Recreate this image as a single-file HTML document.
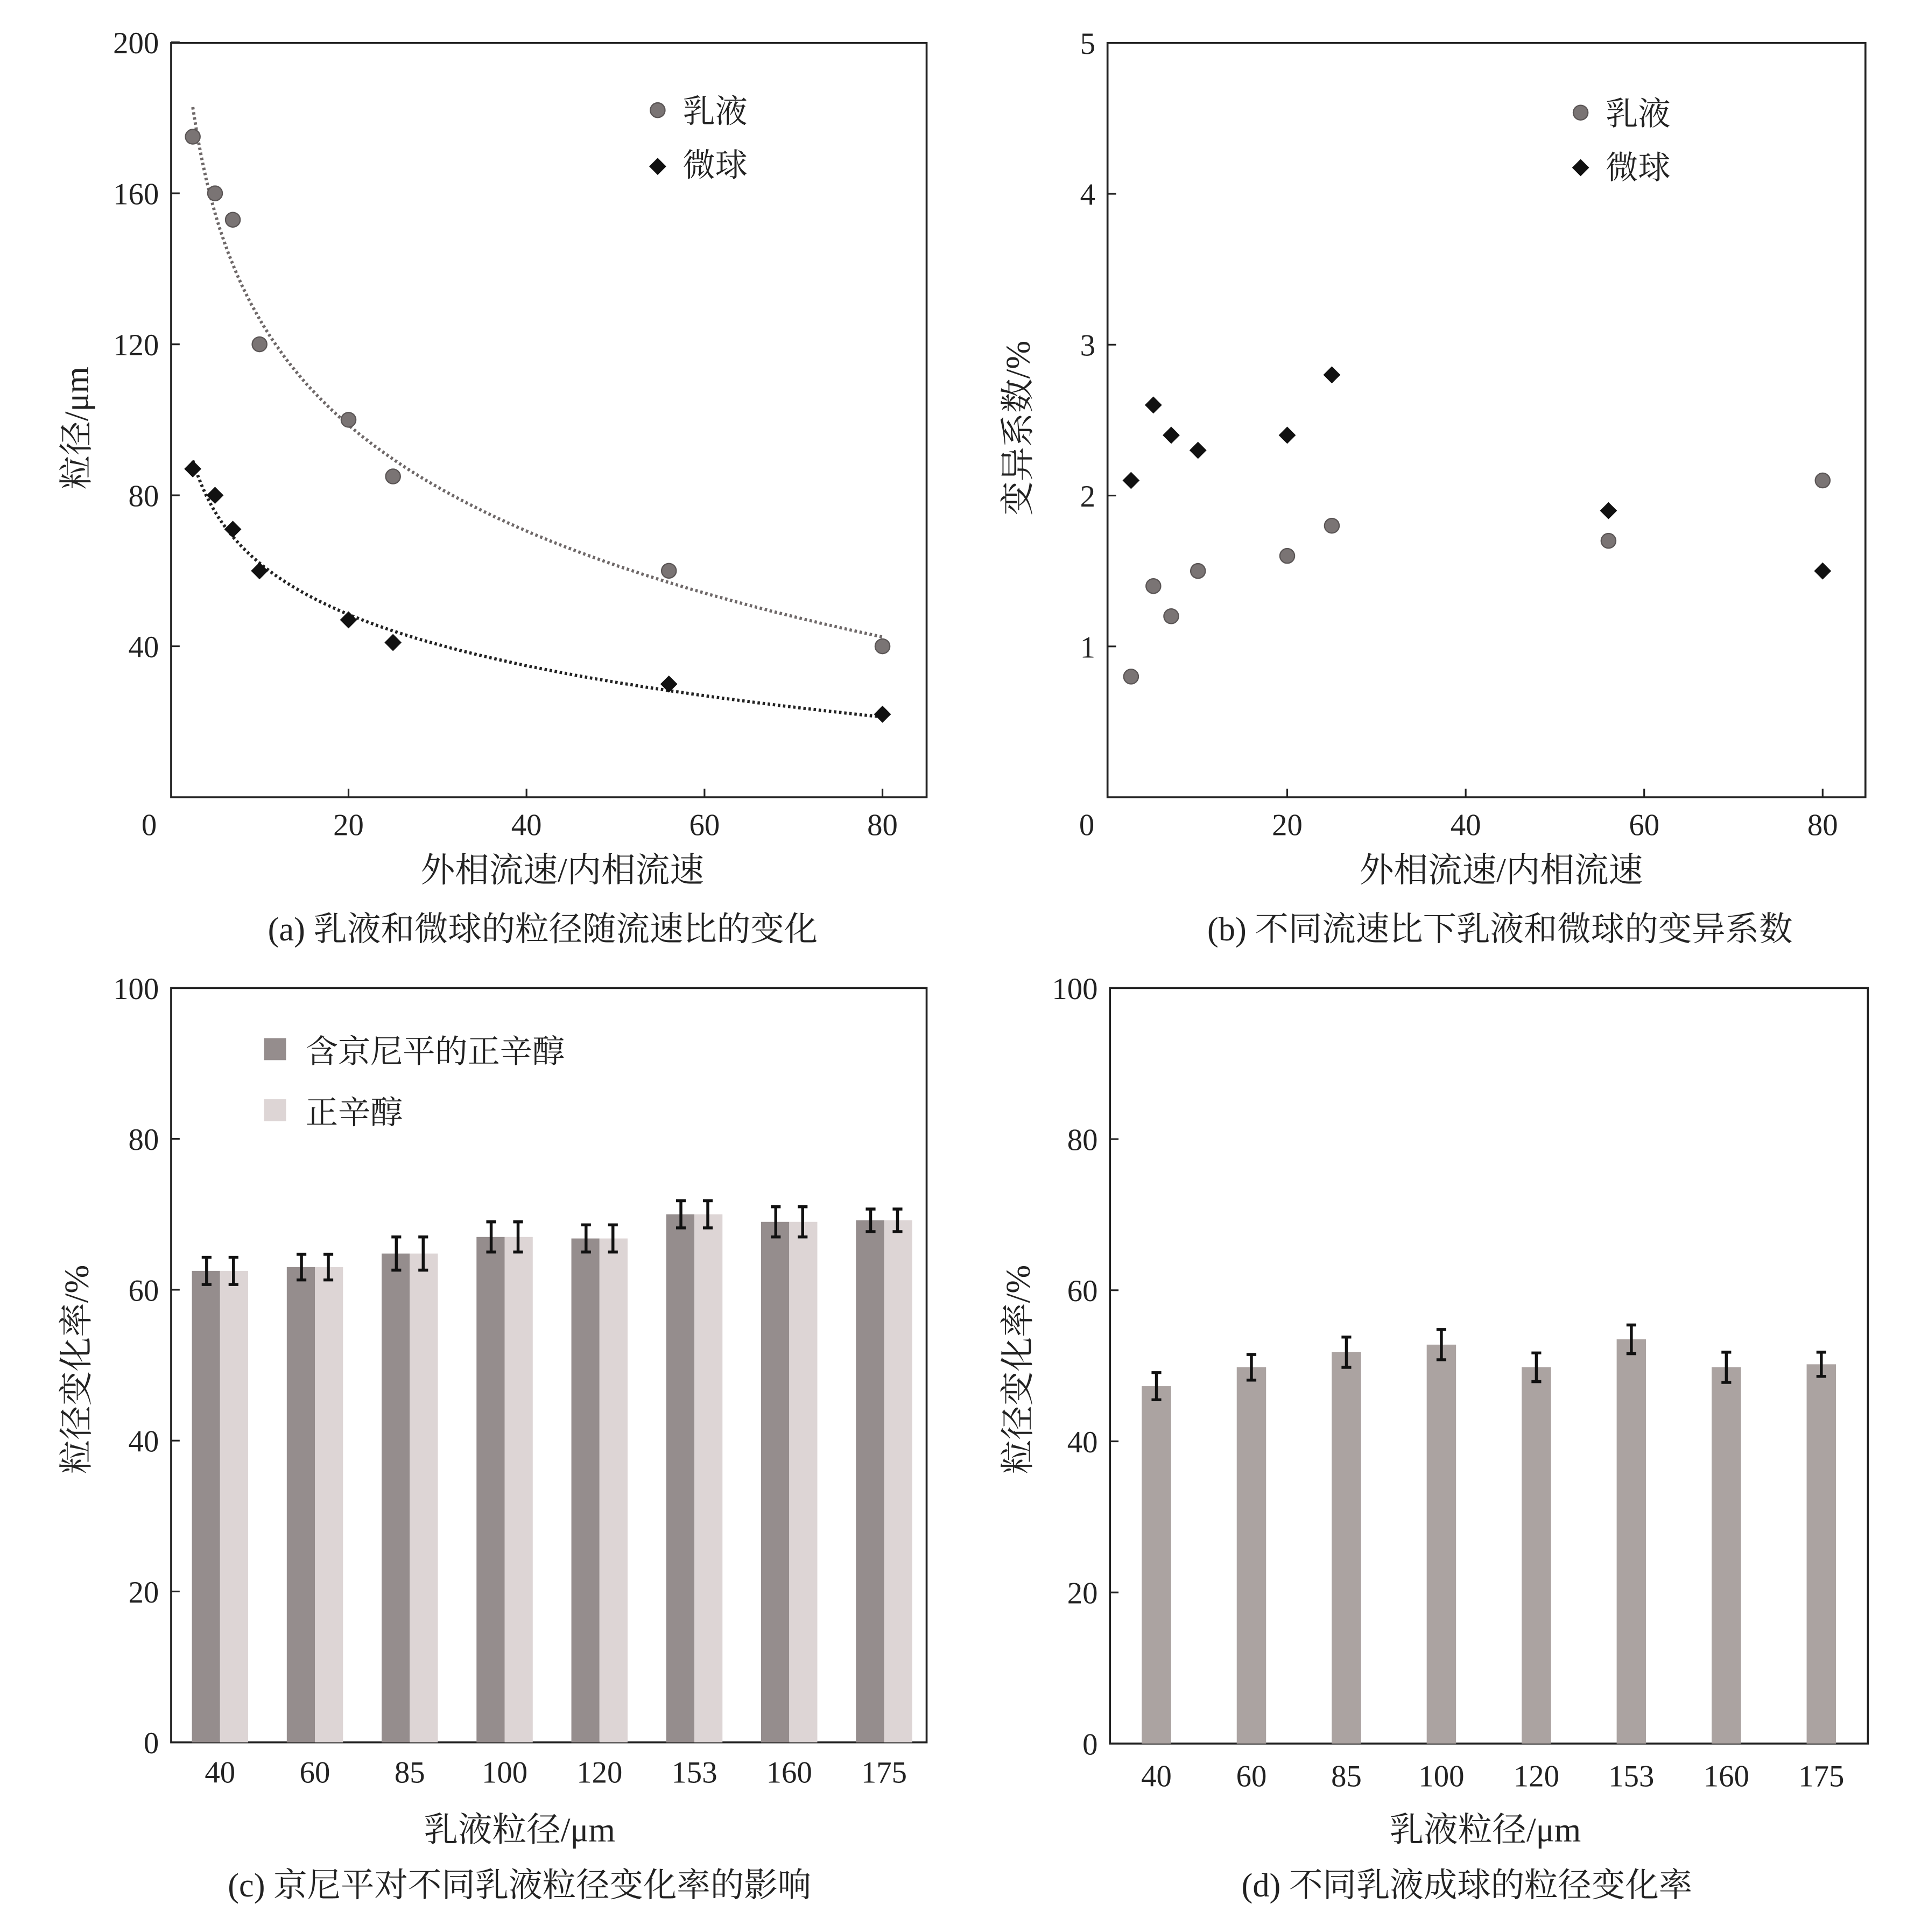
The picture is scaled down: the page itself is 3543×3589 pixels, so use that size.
<!DOCTYPE html>
<html><head><meta charset="utf-8">
<style>
html,body{margin:0;padding:0;background:#fff;}
svg{display:block;}
text{font-family:"Liberation Serif","Noto Serif CJK SC","Noto Sans CJK SC",serif;fill:#222;}
</style></head>
<body>
<svg id="root" width="3543" height="3589" viewBox="0 0 1560 1580" xmlns="http://www.w3.org/2000/svg">
<rect width="1560" height="1580" fill="#fff"/>
<g id="ga"></g>
<g id="gb"></g>
<g id="gc"></g>
<g id="gd"></g>
</svg>
<script>
const ratioX = [2.5, 5, 7, 10, 20, 25, 56, 80];
const emulsionSize = [175, 160, 153, 120, 100, 85, 60, 40];
const sphereSize = [87, 80, 71, 60, 47, 41, 30, 22];
const emulsionCV = [0.8, 1.4, 1.2, 1.5, 1.6, 1.8, 1.7, 2.1];
const sphereCV = [2.1, 2.6, 2.4, 2.3, 2.4, 2.8, 1.9, 1.5];
const sizeCats = ["40", "60", "85", "100", "120", "153", "160", "175"];
const withDye = [62.5, 63, 64.8, 67, 66.8, 70, 69, 69.2];
const withDyeErr = [1.8, 1.7, 2.2, 2.0, 1.8, 1.8, 2.0, 1.5];
const octanol = [62.5, 63, 64.8, 67, 66.8, 70, 69, 69.2];
const octanolErr = [1.8, 1.7, 2.2, 2.0, 1.8, 1.8, 2.0, 1.5];
const sphereRate = [47.3, 49.8, 51.8, 52.8, 49.8, 53.5, 49.8, 50.2];
const sphereRateErr = [1.8, 1.7, 2.0, 2.0, 1.9, 1.9, 2.0, 1.6];
const ticksA = [40, 80, 120, 160, 200];
const ticksB = [1, 2, 3, 4, 5];
const ticksCD = [0, 20, 40, 60, 80, 100];
const ticksX = [20, 40, 60, 80];

const NS = "http://www.w3.org/2000/svg";
function mk(parent, tag, attrs, txt){
  const e = document.createElementNS(NS, tag);
  for (const k in attrs) e.setAttribute(k, attrs[k]);
  if (txt !== undefined) e.textContent = txt;
  parent.appendChild(e);
  return e;
}
function frame(g, x0, y0, x1, y1){
  const r = mk(g, 'rect', {x:x0, y:y0, width:x1-x0, height:y1-y0, fill:'none', stroke:'#222', 'stroke-width':1.6});
  
  
}
function yTicks(g, ticks, sy, x0){
  ticks.forEach(v => {
    const y = sy(v);
    const l = mk(g, 'line', {x1:x0, x2:x0+7, y1:y, y2:y, stroke:'#222', 'stroke-width':1.4});
    
    
    const t = mk(g, 'text', {x:x0-10, y:y+9, 'font-size':25, 'text-anchor':'end'}, String(v));
    
    
  });
}
function label(g, x, y, s, txt, name, rot){
  const a = {x:x, y:y, 'font-size':s, 'text-anchor':'middle'};
  if (rot) a.transform = 'rotate(-90 ' + x + ' ' + y + ')';
  const t = mk(g, 'text', a, txt);
  
  
}
function circle(g, x, y){
  const c = mk(g, 'circle', {cx:x, cy:y, r:6, fill:'#7a7474', stroke:'#5a5555', 'stroke-width':1});
  
  
}
function diamond(g, x, y){
  const d = mk(g, 'path', {d:'M'+x+' '+(y-7)+' L'+(x+7)+' '+y+' L'+x+' '+(y+7)+' L'+(x-7)+' '+y+' Z', fill:'#111'});
  
  
}
function logFit(xs, ys){
  const lx = xs.map(Math.log); const n = xs.length;
  const mx = lx.reduce((a,b)=>a+b)/n, my = ys.reduce((a,b)=>a+b)/n;
  let sxy=0, sxx=0;
  for (let i=0;i<n;i++){ sxy += (lx[i]-mx)*(ys[i]-my); sxx += (lx[i]-mx)*(lx[i]-mx); }
  const b = sxy/sxx; return x => my + b*(Math.log(x)-mx);
}

// Panel A
(function(){
  const g = document.getElementById('ga');
  const X0=140, X1=758, Y0=35, Y1=652;
  const sx = v => 139.5 + v*7.28, sy = v => 652 - v*3.0875;
  frame(g, X0, Y0, X1, Y1);
  yTicks(g, ticksA, sy, X0);
  ticksX.forEach(v => {
    const l = mk(g,'line',{x1:sx(v),x2:sx(v),y1:Y1,y2:Y1-7,stroke:'#222','stroke-width':1.4});
     
    label(g, sx(v), 683, 25, String(v), 'x-tick-label');
  });
  label(g, 122, 683, 25, '0', 'origin-label');
  [[emulsionSize,'#6e6868'],[sphereSize,'#222']].forEach(([ys,col]) => {
    const f = logFit(ratioX, ys); let d='';
    for (let v=2.5; v<=80.01; v+=0.5) d += (d?'L':'M') + sx(v).toFixed(1) + ' ' + sy(f(v)).toFixed(1) + ' ';
    const p = mk(g,'path',{d:d,fill:'none',stroke:col,'stroke-width':2.6,'stroke-dasharray':'2 2.2'});
     
  });
  ratioX.forEach((x,i)=>{ circle(g, sx(x), sy(emulsionSize[i])); diamond(g, sx(x), sy(sphereSize[i])); });
  circle(g, 538, 90); label(g, 585, 100, 26.5, '乳液', 'legend-emulsion');
  diamond(g, 538, 136); label(g, 585, 144, 26.5, '微球', 'legend-microsphere');
  label(g, 72, 350, 28, '粒径/μm', 'y-axis-title', true);
  label(g, 460, 721, 28, '外相流速/内相流速', 'x-axis-title');
  label(g, 444, 769, 27.5, '(a) 乳液和微球的粒径随流速比的变化', 'caption-a');
})();

// Panel B
(function(){
  const g = document.getElementById('gb');
  const X0=906, X1=1526, Y0=35, Y1=652;
  const sx = v => 907 + v*7.3, sy = v => 652 - v*123.4;
  frame(g, X0, Y0, X1, Y1);
  yTicks(g, ticksB, sy, X0);
  ticksX.forEach(v => {
    const l = mk(g,'line',{x1:sx(v),x2:sx(v),y1:Y1,y2:Y1-7,stroke:'#222','stroke-width':1.4});
     
    label(g, sx(v), 683, 25, String(v), 'x-tick-label');
  });
  label(g, 889, 683, 25, '0', 'origin-label');
  ratioX.forEach((x,i)=>{ circle(g, sx(x), sy(emulsionCV[i])); diamond(g, sx(x), sy(sphereCV[i])); });
  circle(g, 1293, 92); label(g, 1340, 102, 26.5, '乳液', 'legend-emulsion');
  diamond(g, 1293, 137); label(g, 1340, 146, 26.5, '微球', 'legend-microsphere');
  label(g, 842, 350, 28, '变异系数/%', 'y-axis-title', true);
  label(g, 1228, 721, 28, '外相流速/内相流速', 'x-axis-title');
  label(g, 1227, 769, 27.5, '(b) 不同流速比下乳液和微球的变异系数', 'caption-b');
})();

function errBar(g, x, y1, y2){
  const p = mk(g,'path',{d:'M'+x+' '+y1+' V'+y2+' M'+(x-4)+' '+y1+' H'+(x+4)+' M'+(x-4)+' '+y2+' H'+(x+4),stroke:'#111','stroke-width':2.4,fill:'none'});
   
}

// Panel C
(function(){
  const g = document.getElementById('gc');
  const X0=140, X1=758, Y0=808, Y1=1425;
  const sy = v => 1425 - v*6.17; const cx = i => 180 + i*77.6;
  frame(g, X0, Y0, X1, Y1);
  yTicks(g, ticksCD, sy, X0);
  sizeCats.forEach((c,i)=>{
    const b1 = mk(g,'rect',{x:cx(i)-23,y:sy(withDye[i]),width:23,height:Y1-sy(withDye[i]),fill:'#958d8d'});
     
    const b2 = mk(g,'rect',{x:cx(i),y:sy(octanol[i]),width:23,height:Y1-sy(octanol[i]),fill:'#ddd5d5'});
     
    errBar(g, cx(i)-11, sy(withDye[i]+withDyeErr[i]), sy(withDye[i]-withDyeErr[i]));
    errBar(g, cx(i)+11, sy(octanol[i]+octanolErr[i]), sy(octanol[i]-octanolErr[i]));
    label(g, cx(i), 1458, 25, c, 'x-tick-label');
  });
  const l1 = mk(g,'rect',{x:216,y:849,width:18,height:18,fill:'#958d8d'});
   
  const l2 = mk(g,'rect',{x:216,y:899,width:18,height:18,fill:'#ddd5d5'});
   
  const t1 = mk(g,'text',{x:250,y:869,'font-size':26.5},'含京尼平的正辛醇');
   
  const t2 = mk(g,'text',{x:250,y:919,'font-size':26.5},'正辛醇');
   
  label(g, 72, 1120, 28, '粒径变化率/%', 'y-axis-title', true);
  label(g, 425, 1506, 28, '乳液粒径/μm', 'x-axis-title');
  label(g, 425, 1551, 27.5, '(c) 京尼平对不同乳液粒径变化率的影响', 'caption-c');
})();

// Panel D
(function(){
  const g = document.getElementById('gd');
  const X0=908, X1=1528, Y0=808, Y1=1426;
  const sy = v => 1426 - v*6.18; const cx = i => 946 + i*77.7;
  frame(g, X0, Y0, X1, Y1);
  yTicks(g, ticksCD, sy, X0);
  sizeCats.forEach((c,i)=>{
    const b = mk(g,'rect',{x:cx(i)-12,y:sy(sphereRate[i]),width:24,height:Y1-sy(sphereRate[i]),fill:'#aba3a1'});
     
    errBar(g, cx(i), sy(sphereRate[i]+sphereRateErr[i]), sy(sphereRate[i]-sphereRateErr[i]));
    label(g, cx(i), 1461, 25, c, 'x-tick-label');
  });
  label(g, 842, 1120, 28, '粒径变化率/%', 'y-axis-title', true);
  label(g, 1215, 1506, 28, '乳液粒径/μm', 'x-axis-title');
  label(g, 1200, 1551, 27.5, '(d) 不同乳液成球的粒径变化率', 'caption-d');
})();
</script>
</body></html>
